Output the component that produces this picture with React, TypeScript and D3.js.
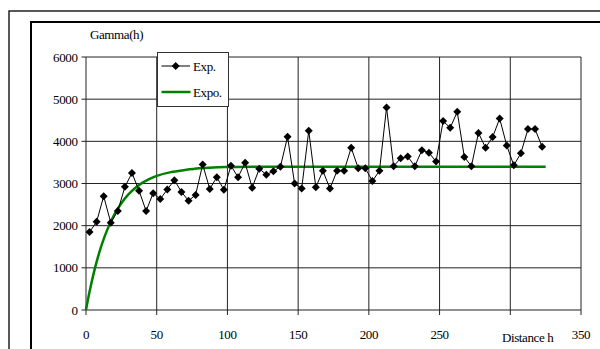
import React from "react";
import * as d3 from "d3";

// Experimental semivariogram: lag distances and gamma values
const expLags = [
  2.5, 7.5, 12.5, 17.5, 22.5, 27.5, 32.5, 37.5, 42.5, 47.5,
  52.5, 57.5, 62.5, 67.5, 72.5, 77.5, 82.5, 87.5, 92.5, 97.5,
  102.5, 107.5, 112.5, 117.5, 122.5, 127.5, 132.5, 137.5, 142.5, 147.5,
  152.5, 157.5, 162.5, 167.5, 172.5, 177.5, 182.5, 187.5, 192.5, 197.5,
  202.5, 207.5, 212.5, 217.5, 222.5, 227.5, 232.5, 237.5, 242.5, 247.5,
  252.5, 257.5, 262.5, 267.5, 272.5, 277.5, 282.5, 287.5, 292.5, 297.5,
  302.5, 307.5, 312.5, 317.5, 322.5,
];
const expGamma = [
  1850, 2090, 2700, 2070, 2350, 2920, 3250, 2830, 2350, 2770,
  2630, 2860, 3080, 2800, 2590, 2730, 3450, 2870, 3150, 2850,
  3420, 3150, 3490, 2900, 3350, 3210, 3290, 3400, 4110, 3000,
  2880, 4250, 2910, 3300, 2880, 3300, 3300, 3850, 3360, 3360,
  3060, 3300, 4800, 3410, 3600, 3640, 3410, 3790, 3730, 3520,
  4480, 4320, 4700, 3630, 3410, 4200, 3850, 4100, 4540, 3900,
  3430, 3720, 4290, 4290, 3870,
];

// Fitted exponential model
const modelLags = [0, 2.5, 5, 7.5, 10, 12.5, 15, 20, 25, 30, 35, 40, 45, 50, 60, 70, 80, 90, 100, 120, 150, 200, 250, 300, 325];
const modelGamma = [0, 430, 810, 1140, 1430, 1680, 1900, 2260, 2530, 2740, 2900, 3020, 3110, 3180, 3270, 3320, 3360, 3380, 3390, 3400, 3400, 3400, 3400, 3400, 3400];

const xTicks = [0, 50, 100, 150, 200, 250, 300, 350];
// the 300 label is hidden behind the axis title in the reference
const xTickLabels = ["0", "50", "100", "150", "200", "250", "", "350"];
const yTicks = [0, 1000, 2000, 3000, 4000, 5000, 6000];

const yTitle = "Gamma(h)";
const xTitle = "Distance h";
const legendExp = "Exp.";
const legendModel = "Expo.";

export default function App() {
  const W = 600;
  const H = 349;
  const x = d3.scaleLinear().domain([0, 350]).range([86, 581]);
  const y = d3.scaleLinear().domain([0, 6000]).range([310, 57]);
  const font = "Liberation Serif, Times New Roman, serif";

  const expLine = d3
    .line<number>()
    .x((_, i) => x(expLags[i]))
    .y((d) => y(d))(expGamma) as string;

  const modelLine = d3
    .line<number>()
    .x((_, i) => x(modelLags[i]))
    .y((d) => y(d))
    .curve(d3.curveMonotoneX)(modelGamma) as string;

  const diamond = (cx: number, cy: number, r = 4) =>
    `M${cx},${cy - r}L${cx + r},${cy}L${cx},${cy + r}L${cx - r},${cy}Z`;

  const ts = { fontFamily: font, fontSize: "13px", letterSpacing: "-0.4px" } as React.CSSProperties;

  return (
    <svg
      width={W}
      height={H}
      style={{ position: "absolute", left: 0, top: 0, background: "#fff", fontFamily: font }}
    >
      <rect x={0} y={0} width={W} height={H} fill="#fff" />
      {/* frames */}
      <rect x={9} y={11} width={640} height={400} fill="none" stroke="#222" strokeWidth={1.5} />
      <rect x={31} y={22} width={620} height={400} fill="none" stroke="#000" strokeWidth={2} />

      {/* grid */}
      {yTicks.map((t) => (
        <line key={"gy" + t} x1={x(0)} x2={x(350)} y1={y(t)} y2={y(t)} stroke="#222" strokeWidth={1} />
      ))}
      {xTicks.map((t) => (
        <line key={"gx" + t} x1={x(t)} x2={x(t)} y1={y(0)} y2={y(6000)} stroke="#222" strokeWidth={1} />
      ))}

      {/* axes ticks */}
      {yTicks.map((t) => (
        <line key={"ty" + t} x1={x(0) - 4.5} x2={x(0)} y1={y(t)} y2={y(t)} stroke="#222" />
      ))}
      {xTicks.map((t) => (
        <line key={"tx" + t} x1={x(t)} x2={x(t)} y1={y(0)} y2={y(0) + 5} stroke="#222" />
      ))}

      {/* tick labels */}
      {yTicks.map((t) => (
        <text key={"ly" + t} x={x(0) - 8.5} y={y(t) + 4.5} style={ts} textAnchor="end" fill="#000">
          {t}
        </text>
      ))}
      {xTicks.map((t, i) => (
        <text key={"lx" + t} x={x(t)} y={339} style={ts} textAnchor="middle" fill="#000">
          {xTickLabels[i]}
        </text>
      ))}

      <text x={90} y={39} style={ts} fill="#000">
        {yTitle}
      </text>
      <text x={502} y={341.5} style={ts} fill="#000">
        {xTitle}
      </text>

      {/* model */}
      <path d={modelLine} fill="none" stroke="#008000" strokeWidth={2.5} />

      {/* experimental */}
      <path d={expLine} fill="none" stroke="#000" strokeWidth={1} />
      {expGamma.map((v, i) => (
        <path key={"m" + i} d={diamond(x(expLags[i]), y(v))} fill="#000" />
      ))}

      {/* legend */}
      <rect x={157.5} y={52.5} width={71} height={54} fill="#fff" stroke="#333" strokeWidth={1} />
      <line x1={161.5} x2={190} y1={66} y2={66} stroke="#000" strokeWidth={1} />
      <path d={diamond(175.7, 66)} fill="#000" />
      <text x={193} y={70.5} style={ts} fill="#000">
        {legendExp}
      </text>
      <line x1={161.5} x2={190.5} y1={92} y2={92} stroke="#008000" strokeWidth={2.5} />
      <text x={193} y={96.5} style={ts} fill="#000">
        {legendModel}
      </text>
    </svg>
  );
}
